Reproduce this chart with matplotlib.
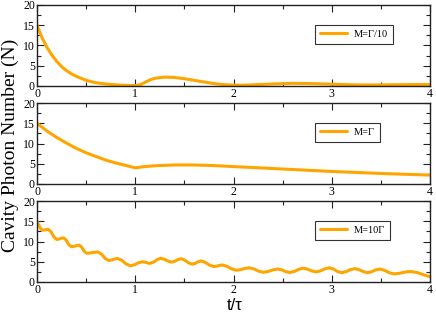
import matplotlib
matplotlib.use("Agg")
import matplotlib.pyplot as plt
from matplotlib.ticker import MultipleLocator

# ---- data ----
t1 = [0.00, 0.05, 0.10, 0.15, 0.20, 0.25, 0.30, 0.35, 0.40, 0.50, 0.60, 0.70,
      0.80, 0.90, 1.00, 1.05, 1.10, 1.15, 1.20, 1.30, 1.40, 1.50, 1.60, 1.70,
      1.80, 1.90, 2.00, 2.10, 2.20, 2.40, 2.60, 2.80, 3.00, 3.20, 3.40, 3.60,
      3.80, 4.00]
n1 = [15.0, 12.0, 9.6, 7.7, 6.1, 4.8, 3.8, 3.0, 2.4, 1.4, 0.8, 0.5,
      0.3, 0.15, 0.1, 0.3, 0.9, 1.5, 1.9, 2.2, 2.1, 1.8, 1.4, 1.0,
      0.6, 0.35, 0.2, 0.2, 0.3, 0.5, 0.65, 0.6, 0.45, 0.3, 0.25, 0.3,
      0.35, 0.35]

t2 = [0.00, 0.10, 0.20, 0.30, 0.40, 0.50, 0.60, 0.70, 0.80, 0.90, 1.00,
      1.10, 1.20, 1.40, 1.60, 1.80, 2.00, 2.50, 3.00, 3.50, 4.00]
n2 = [15.0, 13.1, 11.5, 10.1, 8.8, 7.7, 6.8, 5.9, 5.2, 4.6, 4.0,
      4.3, 4.5, 4.7, 4.7, 4.55, 4.3, 3.7, 3.1, 2.6, 2.2]

t3 = [0.000, 0.020, 0.040, 0.060, 0.078, 0.097, 0.115, 0.143, 0.172, 0.200,
      0.223, 0.247, 0.270, 0.297, 0.323, 0.350, 0.377, 0.403, 0.430, 0.455,
      0.480, 0.505, 0.543, 0.582, 0.620, 0.657, 0.693, 0.730, 0.760, 0.790,
      0.820, 0.863, 0.907, 0.950, 0.992, 1.033, 1.075, 1.100, 1.125, 1.150,
      1.187, 1.223, 1.260, 1.297, 1.333, 1.370, 1.402, 1.433, 1.465, 1.503,
      1.542, 1.580, 1.610, 1.640, 1.670, 1.713, 1.757, 1.800, 1.828, 1.857,
      1.885, 1.933, 1.982, 2.030, 2.073, 2.117, 2.160, 2.208, 2.257, 2.305,
      2.353, 2.402, 2.450, 2.492, 2.533, 2.575, 2.620, 2.665, 2.710, 2.753,
      2.797, 2.840, 2.885, 2.930, 2.975, 3.017, 3.058, 3.100, 3.145, 3.190,
      3.235, 3.278, 3.322, 3.365, 3.405, 3.445, 3.485, 3.535, 3.585, 3.635,
      3.690, 3.745, 3.800, 3.867, 3.933, 4.000]
n3 = [14.9, 13.9, 13.1, 12.8, 12.85, 12.95, 13.0, 12.375, 11.125, 10.5,
      10.6, 10.8, 10.9, 10.35, 9.25, 8.7, 8.8, 9.0, 9.1, 8.6,
      7.6, 7.1, 7.175, 7.325, 7.4, 6.875, 5.825, 5.3, 5.425, 5.675,
      5.8, 5.35, 4.45, 4.0, 4.25, 4.75, 5.0, 4.9, 4.7, 4.6,
      4.91, 5.54, 5.85, 5.61, 5.14, 4.9, 5.11, 5.54, 5.75, 5.41,
      4.74, 4.4, 4.6, 5.0, 5.2, 4.85, 4.15, 3.8, 3.9, 4.1,
      4.2, 3.875, 3.225, 2.9, 3.05, 3.35, 3.5, 3.225, 2.675, 2.4,
      2.6, 3.0, 3.2, 2.99, 2.56, 2.35, 2.61, 3.14, 3.4, 3.175,
      2.725, 2.5, 2.75, 3.25, 3.5, 3.2, 2.6, 2.3, 2.55, 3.05,
      3.3, 3.05, 2.55, 2.3, 2.525, 2.975, 3.2, 2.9, 2.3, 2.0,
      2.15, 2.45, 2.6, 2.35, 1.8, 1.3]

labels = ["M=\u0393/10", "M=\u0393", "M=10\u0393"]
xticks = [0, 1, 2, 3, 4]
yticks = [0, 5, 10, 15, 20]

series = [(t1, n1), (t2, n2), (t3, n3)]

W, H = 436, 314
fig = plt.figure(figsize=(W / 100, H / 100), dpi=100)
serif = ["Liberation Serif", "DejaVu Serif"]

left = 37 / W
width = 393 / W
tops = [5, 103, 201]
bottoms = [86, 184, 282]
color = "#FFA500"

for (tx, ny), lab, top, bot in zip(series, labels, tops, bottoms):
    ax = fig.add_axes([left, 1 - bot / H, width, (bot - top) / H])
    ax.plot(tx, ny, color=color, lw=2.2, label=lab,
            solid_joinstyle="round", solid_capstyle="round")
    ax.set_xlim(0, 4)
    ax.set_ylim(0, 20)
    ax.set_xticks(xticks)
    ax.set_yticks(yticks)
    ax.xaxis.set_minor_locator(MultipleLocator(0.5))
    ax.yaxis.set_minor_locator(MultipleLocator(2.5))
    ax.tick_params(which="both", direction="in", top=True, right=True,
                   width=0.8, colors="#222222", labelcolor="black")
    ax.tick_params(which="major", length=5, labelsize=8.5, pad=1.5)
    ax.tick_params(which="minor", length=3)
    for lbl in ax.get_xticklabels() + ax.get_yticklabels():
        lbl.set_fontfamily(serif)
    for sp in ax.spines.values():
        sp.set_linewidth(1.0)
        sp.set_color("#222222")
    leg = ax.legend(loc="upper left", bbox_to_anchor=(0.707, 0.753),
                    borderaxespad=0, fancybox=False, framealpha=1,
                    edgecolor="#333333", handlelength=2.6, handletextpad=0.7,
                    borderpad=0.45, prop={"family": serif, "size": 7.5})
    leg.get_frame().set_linewidth(0.8)

fig.text(10 / W, 1 - 145 / H, "Cavity Photon Number (N)", rotation=90,
         ha="center", va="center", fontsize=14, family=serif)
fig.text(235 / W, 1 - 306 / H, "t/\u03c4", ha="center", va="center",
         fontsize=12, family=["Liberation Sans", "DejaVu Sans"])

fig.savefig("out.png", dpi=100)
